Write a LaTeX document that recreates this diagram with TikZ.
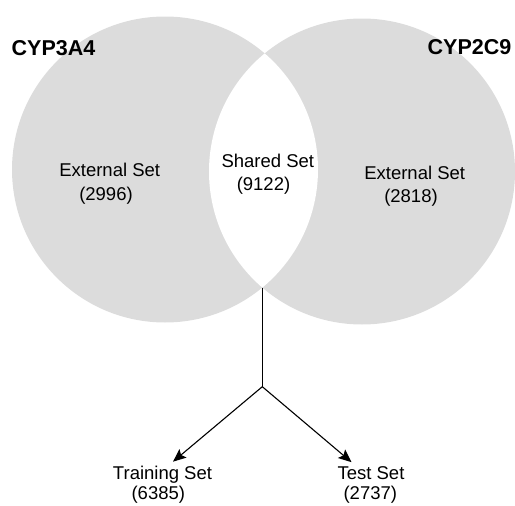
\documentclass[tikz,border=0pt]{standalone}
\usepackage{fontspec}
\setmainfont{Liberation Sans}
\usetikzlibrary{arrows.meta}
\definecolor{circgray}{RGB}{220,220,220}
\tikzset{
  setlabel/.style={anchor=base, inner sep=0pt, font=\fontsize{18.5}{22}\selectfont},
  enzyme/.style={inner sep=0pt, font=\fontsize{21.5}{25}\selectfont\bfseries},
  splitarrow/.style={line width=1.1pt, -{Stealth[length=13pt,width=11pt,inset=2.5pt]}},
  stem/.style={line width=1.1pt}
}
\begin{document}
\begin{tikzpicture}[x=1pt,y=-1pt]
\useasboundingbox (0,0) rectangle (515,506);
% circles
\fill[circgray] (165,169.5) circle (153pt);
\fill[circgray] (362,171.5) circle (153pt);
\begin{scope}
  \clip (165,169.5) circle (153pt);
  \fill[white] (362,171.5) circle (153pt);
\end{scope}
% enzyme labels
\node[enzyme, anchor=base west] (cyp3a4) at (11.5,55) {CYP3A4};
\node[enzyme, anchor=base east] (cyp2c9) at (511.5,54) {CYP2C9};
% set labels
\node[setlabel] (extL) at (109.7,176.7) {External Set};
\node[setlabel] (extLn) at (106,200) {(2996)};
\node[setlabel] (shared) at (267.8,167.7) {Shared Set};
\node[setlabel] (sharedn) at (263.5,190.5) {(9122)};
\node[setlabel] (extR) at (414.7,179.3) {External Set};
\node[setlabel] (extRn) at (411,202.7) {(2818)};
\node[setlabel] (train) at (162.5,479.3) {Training Set};
\node[setlabel] (trainn) at (158.3,499.3) {(6385)};
\node[setlabel] (test) at (371,479.3) {Test Set};
\node[setlabel] (testn) at (370.3,499.8) {(2737)};
% connectors
\coordinate (lensbot) at (262.3,287.6);
\coordinate (junction) at (262.3,386.7);
\draw[stem] (lensbot) -- (junction);
\draw[splitarrow] (junction) -- ([xshift=10.5pt,yshift=4pt]train.north);
\draw[splitarrow] (junction) -- ([xshift=-19.5pt,yshift=4pt]test.north);
\end{tikzpicture}
\end{document}
